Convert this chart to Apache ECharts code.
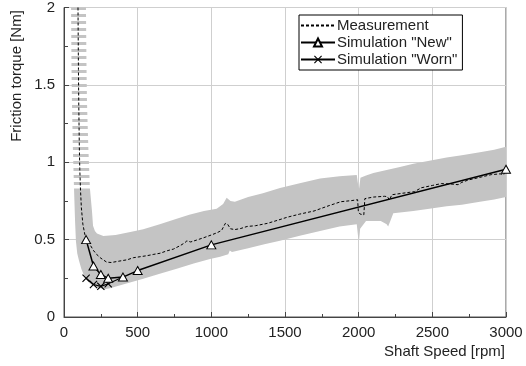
<!DOCTYPE html>
<html>
<head>
<meta charset="utf-8">
<script src="https://cdn.jsdelivr.net/npm/echarts@6/dist/echarts.min.js"></script>
<style>
  html, body { margin: 0; padding: 0; background: #fff; }
  #chart { width: 526px; height: 366px; }
</style>
</head>
<body>
<div id="chart"></div>
<script>
// Measured friction torque (mean) vs shaft speed
const measurement = [
  [95, 2.0], [98, 1.6], [100, 1.39], [104, 1.1], [107, 0.96], [112, 0.82], [118, 0.705],
  [128, 0.6], [141, 0.535], [160, 0.49], [175, 0.47], [200, 0.43], [221, 0.405], [250, 0.38],
  [289, 0.355], [320, 0.352], [380, 0.362], [430, 0.37], [470, 0.383], [520, 0.39], [562, 0.396],
  [610, 0.405], [652, 0.412], [700, 0.428], [743, 0.439], [790, 0.462], [820, 0.48], [834, 0.492],
  [860, 0.485], [900, 0.497], [950, 0.513], [1000, 0.53], [1040, 0.545], [1070, 0.56], [1095, 0.605],
  [1110, 0.6], [1130, 0.57], [1160, 0.565], [1200, 0.572], [1243, 0.585], [1300, 0.59], [1380, 0.605],
  [1450, 0.625], [1516, 0.645], [1600, 0.665], [1697, 0.685], [1800, 0.72], [1879, 0.745],
  [1950, 0.752], [1993, 0.758], [1998, 0.68], [2010, 0.665], [2035, 0.66], [2042, 0.765],
  [2100, 0.775], [2175, 0.78], [2195, 0.778], [2209, 0.755], [2225, 0.79], [2300, 0.8],
  [2379, 0.81], [2425, 0.835], [2500, 0.85], [2561, 0.862], [2620, 0.86], [2675, 0.855],
  [2700, 0.87], [2743, 0.885], [2834, 0.905], [2900, 0.92], [2960, 0.925], [2985, 0.92], [3000, 0.96]
];

// Scatter band of the measurement: upper/right edge and lower/left edge
const bandUpper = [
  [149, 2.0], [153, 1.6], [156, 1.39], [165, 1.1], [176, 0.83], [190, 0.684], [197, 0.59],
  [210, 0.555], [224, 0.54], [267, 0.524], [350, 0.53], [450, 0.55], [538, 0.567], [650, 0.6],
  [765, 0.635], [850, 0.66], [950, 0.685], [1036, 0.7], [1080, 0.73], [1104, 0.77], [1130, 0.75],
  [1160, 0.745], [1250, 0.775], [1350, 0.8], [1466, 0.833], [1600, 0.865], [1738, 0.895],
  [1870, 0.91], [1987, 0.918], [1997, 0.85], [2003, 0.83], [2012, 0.9], [2050, 0.915],
  [2100, 0.93], [2190, 0.95], [2280, 0.97], [2371, 0.99], [2480, 1.01], [2597, 1.03],
  [2700, 1.045], [2823, 1.065], [2920, 1.08], [3000, 1.1]
];
const bandLower = [
  [48, 2.0], [51, 1.6], [54, 1.39], [60, 1.1], [68, 0.83], [75, 0.62], [81, 0.49], [90, 0.41],
  [102, 0.364], [118, 0.31], [136, 0.268], [155, 0.238], [176, 0.217], [200, 0.2], [224, 0.19],
  [278, 0.18], [312, 0.185], [400, 0.21], [538, 0.247], [650, 0.28], [765, 0.311], [880, 0.345],
  [991, 0.375], [1060, 0.39], [1115, 0.405], [1125, 0.43], [1140, 0.42], [1250, 0.445],
  [1360, 0.47], [1466, 0.492], [1600, 0.525], [1738, 0.556], [1870, 0.585], [1987, 0.6],
  [1996, 0.52], [2003, 0.5], [2010, 0.57], [2050, 0.62], [2150, 0.62], [2190, 0.6], [2200, 0.585],
  [2215, 0.62], [2235, 0.67], [2371, 0.685], [2480, 0.7], [2597, 0.715], [2700, 0.725],
  [2823, 0.745], [2920, 0.76], [3000, 0.775]
];
const stripeRows = 5; // first points of each edge form the hatched (steep) part

const simSpeed = [150, 200, 250, 300, 400, 500, 1000, 3000];
const simNew = [0.50, 0.33, 0.275, 0.25, 0.258, 0.30, 0.466, 0.955];
const wornSpeed = [150, 200, 250, 300, 400];
const simWorn = [0.25, 0.21, 0.198, 0.215, 0.258];

const xTicks = [0, 500, 1000, 1500, 2000, 2500, 3000];
const yTicks = [0, 0.5, 1, 1.5, 2];

const FONT = "'Liberation Sans', Arial, sans-serif";
const chart = echarts.init(document.getElementById("chart"));

// hatch pattern for the steep part of the band
const hatch = document.createElement("canvas");
hatch.width = 4; hatch.height = 7;
const hctx = hatch.getContext("2d");
hctx.fillStyle = "#c4c4c4";
hctx.fillRect(0, 0, 4, 3);

const xMark = "path://M0,1L1,0L5,4L9,0L10,1L6,5L10,9L9,10L5,6L1,10L0,9L4,5Z";

function polygonOf(api, upper, lower) {
  return upper.concat(lower.slice().reverse()).map((p) => api.coord(p));
}

const option = {
  animation: false,
  textStyle: { fontFamily: FONT },
  grid: { left: 64, right: 20, top: 4, bottom: 49, show: true, borderColor: "#555", borderWidth: 1 },
  legend: {
    data: [
      { name: "Measurement", itemStyle: { opacity: 0 } },
      'Simulation "New"',
      'Simulation "Worn"',
    ],
    orient: "vertical",
    left: 299, top: 15,
    itemWidth: 34, itemHeight: 10, itemGap: 0,
    padding: [2, 5, 2, 1],
    borderColor: "#000", borderWidth: 1, borderRadius: 0,
    backgroundColor: "#fff",
    textStyle: { fontSize: 15, color: "#222", lineHeight: 17, padding: [0, 0, 0, -3] },
  },
  xAxis: {
    type: "value", min: 0, max: 3000, interval: 500,
    axisLine: { onZero: false, lineStyle: { color: "#444" } },
    axisTick: { inside: true, length: 5, lineStyle: { color: "#444" } },
    minorTick: { show: true, splitNumber: 2, length: 3, lineStyle: { color: "#444" } },
    splitLine: { show: true, lineStyle: { color: "#cfcfcf" } },
    axisLabel: { fontSize: 15, color: "#222", margin: 8, formatter: (v) => (xTicks.includes(v) ? String(v) : "") },
  },
  yAxis: {
    type: "value", min: 0, max: 2, interval: 0.5,
    axisLine: { show: true, lineStyle: { color: "#444" } },
    axisTick: { show: true, inside: true, length: 5, lineStyle: { color: "#444" } },
    minorTick: { show: true, splitNumber: 2, length: 4, lineStyle: { color: "#444" } },
    splitLine: { show: true, lineStyle: { color: "#cfcfcf" } },
    axisLabel: { fontSize: 15, color: "#222", margin: 9, formatter: (v) => (yTicks.includes(v) ? String(v) : "") },
  },
  graphic: [
    {
      type: "text", x: 17, y: 76, rotation: Math.PI / 2,
      style: { text: "Friction torque [Nm]", font: "15px " + FONT, fill: "#222", align: "center", verticalAlign: "middle" },
    },
    {
      type: "text", x: 505, y: 352,
      style: { text: "Shaft Speed [rpm]", font: "15px " + FONT, fill: "#222", align: "right", verticalAlign: "middle" },
    },
  ],
  series: [
    {
      name: "band",
      type: "custom",
      z: 1,
      silent: true,
      data: [[0, 0]],
      renderItem: (params, api) => {
        const upS = bandUpper.slice(0, stripeRows);
        const loS = bandLower.slice(0, stripeRows);
        const up = bandUpper.slice(stripeRows - 1);
        const lo = bandLower.slice(stripeRows - 1);
        return {
          type: "group",
          children: [
            { type: "polygon", shape: { points: polygonOf(api, up, lo) }, style: { fill: "#c4c4c4" } },
            { type: "polygon", shape: { points: polygonOf(api, upS, loS) }, style: { fill: { image: hatch, repeat: "repeat" } } },
          ],
        };
      },
    },
    {
      name: "Measurement",
      type: "line",
      z: 3,
      data: measurement,
      showSymbol: false,
      symbol: "none",
      lineStyle: { color: "#000", width: 1, type: [3, 2] },
      itemStyle: { color: "#000" },
    },
    {
      name: 'Simulation "Worn"',
      type: "line",
      z: 4,
      data: wornSpeed.map((x, i) => ({ value: [x, simWorn[i]], symbol: i < 4 ? xMark : "none" })),
      symbol: xMark,
      symbolSize: 8,
      lineStyle: { color: "#000", width: 1.2 },
      itemStyle: { color: "#000" },
    },
    {
      name: 'Simulation "New"',
      type: "line",
      z: 5,
      data: simSpeed.map((x, i) => [x, simNew[i]]),
      symbol: "triangle",
      symbolSize: [9, 8],
      showAllSymbol: true,
      lineStyle: { color: "#000", width: 1.5 },
      itemStyle: { color: "#fff", borderColor: "#000", borderWidth: 1 },
    },
  ],
};

chart.setOption(option);
</script>
</body>
</html>
